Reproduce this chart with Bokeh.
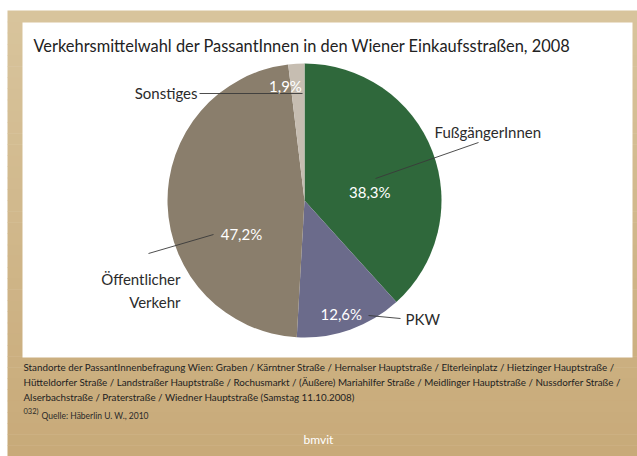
import math
from bokeh.plotting import figure
from bokeh.models import Range1d
from bokeh.core.properties import value
from bokeh.embed import file_html
from bokeh.resources import INLINE

# ---- data ----
categories = ["FußgängerInnen", "PKW", "Öffentlicher Verkehr", "Sonstiges"]
shares = [38.3, 12.6, 47.2, 1.9]
colors = ["#2f683b", "#6b6b8b", "#8a7e6c", "#c6bdb1"]

title = "Verkehrsmittelwahl der PassantInnen in den Wiener Einkaufsstraßen, 2008"
footer_lines = [
    "Standorte der PassantInnenbefragung Wien: Graben / Kärntner Straße / Hernalser Hauptstraße / Elterleinplatz / Hietzinger Hauptstraße /",
    "Hütteldorfer Straße / Landstraßer Hauptstraße / Rochusmarkt / (Äußere) Mariahilfer Straße / Meidlinger Hauptstraße / Nussdorfer Straße /",
    "Alserbachstraße / Praterstraße / Wiedner Hauptstraße (Samstag 11.10.2008)",
]
source_no = "032)"
source = "Quelle: Häberlin U. W., 2010"
logo = "bmvit"

# ---- layout (pixel space, y measured from top) ----
W, H = 637, 456
def Y(y):
    return H - y

CX, CY, R = 304, 200, 137
# percent label placement (angle in deg, fraction of radius)
pct_pos = [(7.0, 0.48), (-72.0, 0.87), (207.8, 0.52), (99.4, 0.85)]
# category label placement (x, y, align)
cat_pos = [(434, 131, "left"), (405, 318, "left"), (180, 281, "right"), (197, 92, "right")]
leaders = [((478, 142), (375, 178)), ((368, 315), (400, 318)),
           ((148, 253), (213, 234)), ((199, 93), (302, 93))]

FONT = "Lato"

p = figure(width=W, height=H, x_range=Range1d(0, W), y_range=Range1d(0, H),
           output_backend="svg", toolbar_location=None, min_border=0)
p.axis.visible = False
p.grid.visible = False
p.outline_line_color = None
p.background_fill_color = "white"
p.border_fill_color = "white"

# tan frame with slight vertical gradient
top_c = (216, 196, 156)
bot_c = (200, 170, 121)
n = 40
y0, y1 = 10, H
for i in range(n):
    t = i / (n - 1)
    c = tuple(int(round(a + (b - a) * t)) for a, b in zip(top_c, bot_c))
    ya = y0 + (y1 - y0) * i / n
    yb = y0 + (y1 - y0) * (i + 1) / n
    p.quad(left=7, right=W, top=Y(ya), bottom=Y(yb) - 0.5,
           fill_color="#%02x%02x%02x" % c, line_color=None)
# white panel
p.quad(left=22, right=632, top=Y(22), bottom=Y(357), fill_color="white", line_color=None)

# pie
total = sum(shares)
start = math.pi / 2
starts, ends = [], []
a = start
for s in shares:
    sweep = 2 * math.pi * s / total
    starts.append(a - sweep)
    ends.append(a)
    a -= sweep
p.wedge(x=[CX] * len(shares), y=[Y(CY)] * len(shares), radius=R,
        start_angle=starts, end_angle=ends, fill_color=colors, line_color=None)

# leader lines
for (xa, ya), (xb, yb) in leaders:
    p.line([xa, xb], [Y(ya), Y(yb)], line_color="#3a3a3a", line_width=0.9)

# percent labels
px, py, pt = [], [], []
for s, (ang, fr) in zip(shares, pct_pos):
    r = math.radians(ang)
    px.append(CX + fr * R * math.cos(r))
    py.append(Y(CY) + fr * R * math.sin(r))
    pt.append(f"{s:.1f}%".replace(".", ","))
p.text(x=px, y=py, text=pt, text_align="center", text_baseline="middle",
       text_color="white", text_font=value(FONT), text_font_size="15px")

# category labels
for name, (x, y, al) in zip(categories, cat_pos):
    txt = name.replace(" ", "\n") if name == "Öffentlicher Verkehr" else name
    yy = y + (9 if "\n" in txt else 0)
    p.text(x=[x], y=[Y(yy)], text=[txt], text_align=al, text_baseline="middle",
           text_color="#2b2b2b", text_font=value(FONT), text_font_size="15px",
           text_line_height=1.25)

# title
p.text(x=[33], y=[Y(45)], text=[title], text_align="left", text_baseline="middle",
       text_color="#222222", text_font=value(FONT), text_font_size="16.4px")

# footer
for i, line in enumerate(footer_lines):
    p.text(x=[23], y=[Y(366 + 15 * i)], text=[line], text_align="left", text_baseline="middle",
           text_color="#222222", text_font=value(FONT), text_font_size="9.8px")
p.text(x=[23], y=[Y(411)], text=[source_no], text_align="left", text_baseline="middle",
       text_color="#2a2a2a", text_font=value(FONT), text_font_size="7.5px")
p.text(x=[41], y=[Y(415)], text=[source], text_align="left", text_baseline="middle",
       text_color="#2a2a2a", text_font=value(FONT), text_font_size="8.5px")
p.text(x=[318], y=[Y(439)], text=[logo], text_align="center", text_baseline="middle",
       text_color="white", text_font=value(FONT), text_font_size="12px")

open("out.html", "w").write(file_html(p, INLINE))
